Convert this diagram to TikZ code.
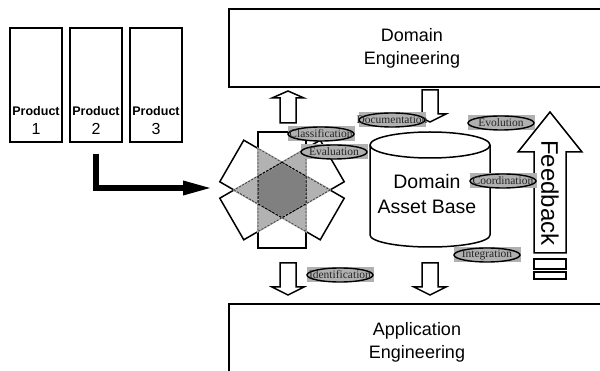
\documentclass[tikz,border=0pt]{standalone}
\usepackage{fontspec}
\setmainfont{Liberation Sans}
\newfontfamily\tagserif{Liberation Serif}
\usetikzlibrary{arrows.meta}
\newcommand\taglabel[3]{%
  \node[tagrect] (#1) at (#2) {};
  \draw[tagell] (#1.center) ellipse [x radius=33pt, y radius=7pt];
  \node[tagtext] (#1t) at (#1.center) {#3};}
\begin{document}
\begin{tikzpicture}[x=1pt,y=-1pt,
  frame/.style={draw, line width=1.8pt},
  prodbox/.style={draw, line width=1.5pt, minimum width=52pt, minimum height=114pt, inner sep=0pt},
  blk/.style={draw, line width=1.5pt, fill=white, line join=miter},
  wrect/.style={draw, line width=1.5pt, fill=white, inner sep=0pt},
  bigtext/.style={font=\fontsize{18}{23}\selectfont, align=center, inner sep=0pt},
  midtext/.style={font=\fontsize{19.5}{25}\selectfont, align=center, inner sep=0pt},
  tri/.style={fill=black!30},
  hex/.style={fill=black!50},
  tagrect/.style={fill=black!31, minimum width=67pt, minimum height=15pt, inner sep=0pt},
  tagell/.style={draw, line width=1.4pt, fill=black!31},
  tagtext/.style={font=\tagserif\fontsize{11.5}{12}\selectfont, text=black!85, inner sep=0pt},
  downarr/.pic={\draw[blk] (-8,0) -- (8,0) -- (8,24) -- (16,24) -- (0,32) -- (-16,24) -- (-8,24) -- cycle;},
  uparr/.pic={\draw[blk] (-8,0) -- (8,0) -- (8,-25) -- (16,-25) -- (0,-32) -- (-16,-25) -- (-8,-25) -- cycle;}
]
\clip (0,0) rectangle (600,371);
\fill[white] (0,0) rectangle (600,371);

% Domain / Application engineering frames
\draw[frame] (229,9) rectangle (612,87);
\node[bigtext] (de) at (412,48) {Domain\\Engineering};
\draw[frame] (229,304) rectangle (612,380);
\node[bigtext] (ae) at (417,342) {Application\\Engineering};

% products
\foreach \i/\x in {1/36,2/96,3/156}{
  \node[prodbox] (p\i) at (\x,85) {};
  \node[font=\bfseries\fontsize{12.5}{14}\selectfont, inner sep=0pt] (pl\i) at (\x,111) {Product};
  \node[font=\fontsize{16}{18}\selectfont, inner sep=0pt] (pn\i) at (\x,129) {\i};
}

% star figure
\begin{scope}[shift={(282,190)}]
  \node[wrect, minimum width=116pt, minimum height=48pt, rotate=30] (ra) at (0,0) {};
  \node[wrect, minimum width=116pt, minimum height=48pt, rotate=-30] (rb) at (0,0) {};
  \node[wrect, minimum width=48pt, minimum height=116pt] (act) at (0,0) {};
  \fill[tri] (48,0) -- (-24,41.57) -- (-24,-41.57) -- cycle;
  \fill[tri] (-48,0) -- (24,41.57) -- (24,-41.57) -- cycle;
  \fill[hex] (0,-27.71) -- (24,-13.86) -- (24,13.86) -- (0,27.71) -- (-24,13.86) -- (-24,-13.86) -- cycle;
  \draw[black!30, line width=1.6pt] (48,0) -- (-24,41.57) -- (-24,-41.57) -- cycle;
  \draw[black!30, line width=1.6pt] (-48,0) -- (24,41.57) -- (24,-41.57) -- cycle;
  \draw[black!75, line width=0.8pt, dash pattern=on 2pt off 1.5pt] (48,0) -- (-24,41.57) -- (-24,-41.57) -- cycle;
  \draw[black!75, line width=0.8pt, dash pattern=on 2pt off 1.5pt] (-48,0) -- (24,41.57) -- (24,-41.57) -- cycle;
  \draw[black, line width=1pt, dash pattern=on 2.5pt off 1.5pt] (0,-27.71) -- (24,-13.86) -- (24,13.86) -- (0,27.71) -- (-24,13.86) -- (-24,-13.86) -- cycle;
  \coordinate (starin) at (-69,-2);
\end{scope}

% thick arrow from product 2
\draw[line width=6pt, -{Triangle[length=30pt,width=13pt]}] ([yshift=-11pt]p2.south) |- (starin);

% domain asset base cylinder
\draw[line width=1.5pt, fill=white] (370,145) -- (370,235) arc[start angle=180, end angle=360, x radius=60pt, y radius=12pt] -- (490,145);
\draw[line width=1.5pt, fill=white] (430,145) ellipse [x radius=60pt, y radius=13pt];
\node[midtext] (dab) at (427,194) {Domain\\Asset Base};

% block arrows
\pic at (288,123) {uparr};
\pic at (430,90) {downarr};
\pic at (288,263) {downarr};
\pic at (430,263) {downarr};

% feedback arrow
\draw[blk] (534,253) -- (534,152) -- (518,152) -- (550,112) -- (582,152) -- (566,152) -- (566,253) -- cycle;
\node[font=\fontsize{24}{24}\selectfont, rotate=-90, inner sep=0pt] (fb) at (550,193) {Feedback};
\draw[line width=1.5pt] (534,259) rectangle (566,269);
\draw[line width=1.5pt] (534,272) rectangle (566,279);

% tags
\taglabel{cls}{321,134}{Classification}
\taglabel{evl}{334,152}{Evaluation}
\taglabel{doc}{392,120}{Documentation}
\taglabel{evo}{501,123}{Evolution}
\taglabel{coo}{503,181}{Coordination}
\taglabel{int}{487,255}{Integration}
\taglabel{idf}{340,275}{Identification}
\end{tikzpicture}
\end{document}
